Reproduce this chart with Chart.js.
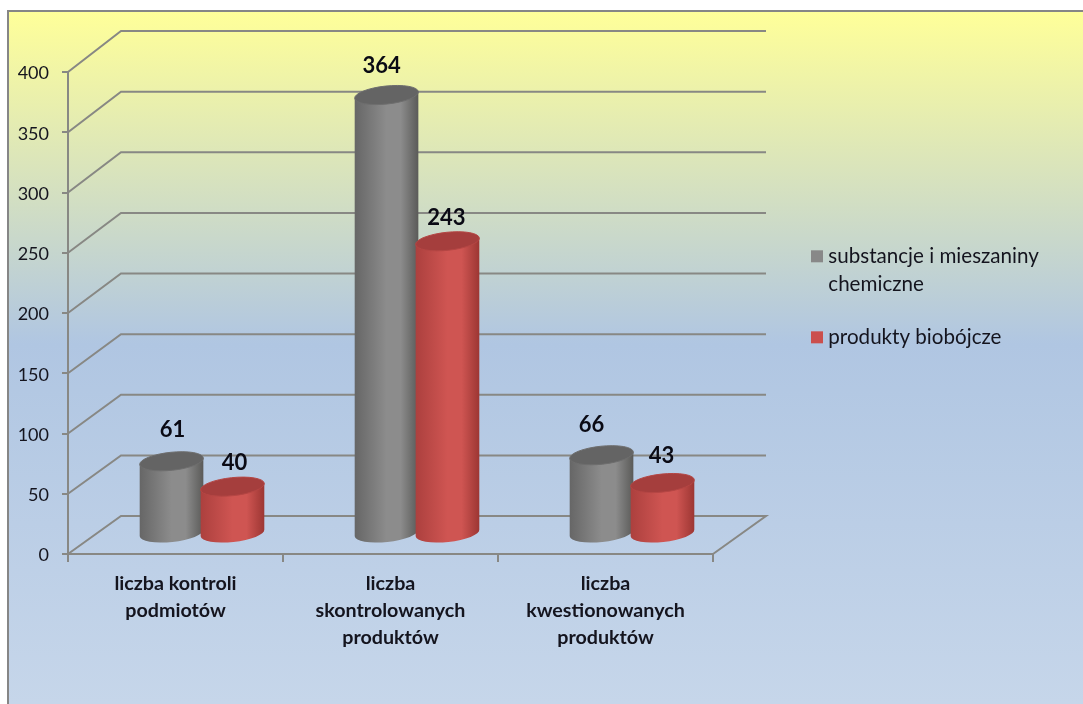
<!DOCTYPE html>
<html><head><meta charset="utf-8">
<style>html,body{margin:0;padding:0;background:#fff}canvas{display:block}</style>
<script src="https://cdn.jsdelivr.net/npm/chart.js@4"></script>
</head><body>
<div style="position:relative;width:1083px;height:704px"><canvas id="c"></canvas></div>
<script>
const categories = [["liczba kontroli","podmiotów"],["liczba","skontrolowanych","produktów"],["liczba","kwestionowanych","produktów"]];
const seriesNames = [["substancje i mieszaniny","chemiczne"],"produkty biobójcze"];
const chemicalValues = [61,364,66];
const biocideValues = [40,243,43];
const tickStep = 50;
const axisMax = 400;

const GRID='#888884';
const DEPTH_X=53, DEPTH_BASE=38;
const labelNudge=[[[1,-31],[2,-24]],[[-5,-29],[-1,-23]],[[-10,-30],[-1,-27]]];
const faces=[
 {edgeL:'#666666',mid:'#8c8c8c',edgeR:'#5a5a58',top:'#646464',rim:'#6e6e6e'},
 {edgeL:'#ac403e',mid:'#cf5552',edgeR:'#9c3633',top:'#a53e3d',rim:'#b54644'}
];
const backY=(fy,area)=>area.bottom-DEPTH_BASE+(fy-area.bottom)*(485/482);

const stage={id:'stage',
 beforeDraw(ch){
  const c=ch.ctx,W=ch.width,H=ch.height;
  c.save();
  const g=c.createLinearGradient(0,11,0,704);
  g.addColorStop(0,'#ffff99');g.addColorStop(0.48,'#b0c6e2');g.addColorStop(1,'#c6d6ea');
  c.fillStyle=g;c.fillRect(8,11,W-8,H-11);
  c.strokeStyle='#868686';c.lineWidth=2;
  c.beginPath();c.moveTo(8,H);c.lineTo(8,11);c.lineTo(W,11);c.stroke();
  c.restore();
 },
 beforeDatasetsDraw(ch){
  const c=ch.ctx,a=ch.chartArea,y=ch.scales.y;
  c.save();c.strokeStyle=GRID;c.lineWidth=2;
  y.ticks.forEach(t=>{
   const fy=y.getPixelForValue(t.value),by=backY(fy,a);
   c.beginPath();c.moveTo(a.left,fy);c.lineTo(a.left+DEPTH_X,by);c.lineTo(a.right+DEPTH_X,by);
   if(t.value===0)c.lineTo(a.right,a.bottom);
   c.stroke();
  });
  c.restore();
 },
 afterDatasetsDraw(ch){
  const c=ch.ctx,a=ch.chartArea;
  const rot=-6*Math.PI/180,ry=9;
  ch.data.datasets.forEach((ds,d)=>{
   const f=faces[d];
   ch.getDatasetMeta(d).data.forEach((el,i)=>{
    const cx=el.x+DEPTH_X/2,rx=el.width/2;
    const ty=(el.y+backY(el.y,a))/2, by=(el.base+backY(el.base,a))/2-1;
    c.save();
    const g=c.createLinearGradient(cx-rx,0,cx+rx,0);
    g.addColorStop(0,f.edgeL);g.addColorStop(0.5,f.mid);g.addColorStop(0.72,f.mid);g.addColorStop(1,f.edgeR);
    c.fillStyle=g;
    const dx=rx*Math.cos(rot),dy=rx*Math.sin(rot);
    c.beginPath();
    c.moveTo(cx-dx,ty-dy);
    c.lineTo(cx-dx,by-dy);
    c.ellipse(cx,by,rx,ry,rot,Math.PI,0,true);
    c.lineTo(cx+dx,ty+dy);
    c.closePath();c.fill();
    c.beginPath();c.ellipse(cx,ty,rx,ry,rot,0,Math.PI*2);
    c.fillStyle=f.top;c.fill();
    c.strokeStyle=f.rim;c.lineWidth=1;c.stroke();
    c.restore();
   });
  });
  c.save();
  c.font='bold 22px Lato';c.fillStyle='#0a0a14';c.textAlign='center';c.textBaseline='middle';
  ch.data.datasets.forEach((ds,d)=>{
   ch.getDatasetMeta(d).data.forEach((el,i)=>{
    const cx=el.x+DEPTH_X/2,ty=(el.y+backY(el.y,a))/2,n=labelNudge[i][d];
    c.fillText(String(ds.data[i]),cx+n[0],ty+n[1]);
   });
  });
  c.restore();
 },
 afterLayout(ch){
  const l=ch.legend;
  l.left=791;l.right=1081;l.top=221;l.bottom=420;l.width=290;l.height=199;
 }
};

new Chart(document.getElementById('c'),{
 type:'bar',
 data:{labels:categories,datasets:[
  {label:seriesNames[0],data:chemicalValues,backgroundColor:'rgba(0,0,0,0)',borderWidth:0,legendColor:'#888888'},
  {label:seriesNames[1],data:biocideValues,backgroundColor:'rgba(0,0,0,0)',borderWidth:0,legendColor:'#cb4f4d'}
 ]},
 options:{
  responsive:true,maintainAspectRatio:false,animation:false,
  layout:{padding:{top:72,right:370,left:0,bottom:0}},
  datasets:{bar:{categoryPercentage:0.567,barPercentage:1.05}},
  scales:{
   x:{grid:{display:true,drawOnChartArea:false,color:GRID,lineWidth:2,tickLength:8,offset:true},
      border:{color:GRID,width:2},
      ticks:{font:{family:'Lato',size:19.7,weight:'bold',lineHeight:1.37},color:'#14141e',padding:8,maxRotation:0,autoSkip:false},
      afterFit(s){s.height=150;}},
   y:{min:0,max:axisMax,grid:{display:true,drawOnChartArea:false,color:GRID,lineWidth:2,tickLength:6},
      border:{color:GRID,width:2},
      ticks:{stepSize:tickStep,font:{family:'Lato',size:18},color:'#14141e',padding:13,labelOffset:1.5},
      afterFit(s){s.width=68;}}
  },
  plugins:{
   tooltip:{enabled:false},
   legend:{position:'chartArea',align:'start',
    labels:{usePointStyle:true,boxWidth:2,boxHeight:12,padding:25,color:'#14141e',font:{family:'Lato',size:20.6,lineHeight:1.36},
     generateLabels(ch){return ch.data.datasets.map((ds,i)=>({text:ds.label,fillStyle:ds.legendColor,strokeStyle:ds.legendColor,lineWidth:0,pointStyle:'rect',datasetIndex:i,fontColor:'#14141e'}));}}
   }
  }
 },
 plugins:[stage]
});
</script></body></html>
